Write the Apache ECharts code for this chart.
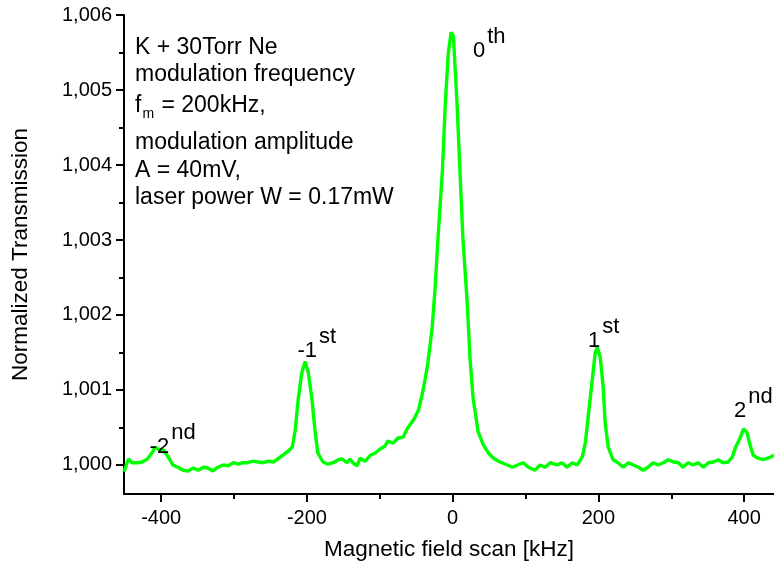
<!DOCTYPE html>
<html>
<head>
<meta charset="utf-8">
<script src="https://cdn.jsdelivr.net/npm/echarts@6/dist/echarts.min.js"></script>
<style>
html,body{margin:0;padding:0;background:#fff;}
#chart{width:774px;height:568px;}
</style>
</head>
<body>
<div id="chart"></div>
<script>
// ---- data ----
const fieldKHz = [-451,-445,-440,-433,-426,-419,-412,-408,-404,-397,-392,-388,-384,-377,-370,-363,-356,-349,-342,-336,-329,-322,-315,-308,-301,-294,-288,-281,-274,-267,-260,-253,-246,-240,-233,-226,-220,-216,-212,-207,-202.5,-198,-193,-189,-185,-178,-171,-164,-157,-152,-145,-141,-137,-131,-127,-120,-113,-106,-100,-93,-89,-82,-75,-68,-62,-56,-52,-47,-42,-38,-34,-28,-24,-20,-14,-10,-6,-2,1,6,10,14,20,24,28,35,42,49,56,65,75,82,89,97,104,113,120,127,134,143,150,157,164,171,178,182,186,191.5,195.6,198.4,202.5,206.6,209.3,213.5,220,227,234,241,248,255,261.5,268,275,282,289,296,303,310,316,323,330,337,344,351,358,364.5,371,378,384,388,395,399,404,408,412.5,419,426,433,439,441];
const transmission = [0.99991,1.00008,1.00003,1.00003,1.00004,1.00008,1.00017,1.00024,1.00021,1.00020,1.00013,1.00007,1.00000,0.99997,0.99993,0.99992,0.99996,0.99993,0.99997,0.99996,0.99992,0.99997,1.00000,0.99999,1.00003,1.00001,1.00003,1.00003,1.00005,1.00004,1.00003,1.00005,1.00004,1.00008,1.00013,1.00018,1.00024,1.00047,1.00087,1.00123,1.00138,1.00123,1.00087,1.00047,1.00016,1.00004,1.00001,1.00003,1.00007,1.00008,1.00003,1.00008,1.00003,0.99999,1.00009,1.00005,1.00013,1.00016,1.00021,1.00025,1.00032,1.00029,1.00036,1.00037,1.00049,1.00057,1.00063,1.00073,1.00093,1.00113,1.00136,1.00184,1.00237,1.00304,1.00393,1.00483,1.00549,1.00577,1.00572,1.00483,1.00393,1.00304,1.00216,1.00140,1.00090,1.00044,1.00027,1.00016,1.00009,1.00004,1.00000,0.99997,1.00000,1.00003,0.99997,0.99993,1.00000,0.99997,1.00003,1.00000,1.00003,0.99997,1.00003,1.00000,1.00011,1.00029,1.00064,1.00113,1.00149,1.00157,1.00144,1.00104,1.00056,1.00024,1.00007,1.00003,0.99997,1.00003,1.00000,0.99997,0.99993,0.99997,1.00003,1.00000,1.00003,1.00007,1.00004,1.00003,0.99997,1.00003,1.00000,1.00003,0.99997,1.00003,1.00004,1.00007,1.00003,1.00004,1.00011,1.00023,1.00037,1.00048,1.00043,1.00027,1.00013,1.00009,1.00007,1.00009,1.00012,1.00013];

const xMajorTicks = [-400,-200,0,200,400];
const xMinorTicks = [-300,-100,100,300];
const yMajorTicks = [1.000,1.001,1.002,1.003,1.004,1.005,1.006];
const yMinorTicks = [1.0005,1.0015,1.0025,1.0035,1.0045,1.0055];

const peakOrders = ['-2','-1','0','1','2'];
const peakSuffixes = ['nd','st','th','st','nd'];
const peakLabelX = [-389,-186,44.6,202.5,403];
const peakLabelY = [1.000240,1.001520,1.005520,1.001650,1.000720];

const noteLines = ['K + 30Torr Ne','modulation frequency','f|m| = 200kHz,','modulation amplitude','A = 40mV,','laser power W = 0.17mW'];

const xTitle = 'Magnetic field scan [kHz]';
const yTitle = 'Normalized Transmission';

// ---- chart ----
const FONT = '"Liberation Sans", Arial, Helvetica, sans-serif';
const chart = echarts.init(document.getElementById('chart'), null, {renderer:'canvas'});

const seriesData = fieldKHz.map((x,i)=>[x, transmission[i]]);
const markData = [];
peakOrders.forEach((o,i)=>{
  markData.push({coord:[peakLabelX[i], peakLabelY[i]],
    label:{show:true, formatter:o, align:'right', verticalAlign:'middle', offset:[0,0],
      fontSize:22, fontFamily:FONT, color:'#000'}});
  markData.push({coord:[peakLabelX[i], peakLabelY[i]],
    label:{show:true, formatter:peakSuffixes[i], align:'left', verticalAlign:'middle', offset:[2,-14],
      fontSize:22, fontFamily:FONT, color:'#000'}});
});

const noteTops = [34,61,89,129,157,184];
const graphics = noteLines.map((line,i)=>{
  if (line.indexOf('|') >= 0) {
    const p = line.split('|');
    return {type:'text', left:135, top:noteTops[i], silent:true,
      style:{text:'{a|'+p[0]+'}{b|'+p[1]+'}{a|'+p[2]+'}', font:'23px '+FONT, fill:'#000',
        rich:{a:{fontSize:23, fontFamily:FONT, lineHeight:27, verticalAlign:'top', fill:'#000'},
              b:{fontSize:14, fontFamily:FONT, lineHeight:14, verticalAlign:'bottom', padding:[18,1,0,1], fill:'#000'}}}};
  }
  return {type:'text', left:135, top:noteTops[i], silent:true,
    style:{text:line, font:'23px '+FONT, fill:'#000', lineHeight:27}};
});

chart.setOption({
  animation:false,
  backgroundColor:'#fff',
  textStyle:{fontFamily:FONT},
  grid:{left:124, right:0, top:15, bottom:74, containLabel:false},
  xAxis:[{
    type:'value', min:-451, max:441, position:'bottom',
    axisLine:{show:true, onZero:false, lineStyle:{color:'#000', width:2}},
    splitLine:{show:false},
    axisTick:{show:true, customValues:xMajorTicks, length:8, lineStyle:{color:'#000', width:2}},
    axisLabel:{customValues:xMajorTicks, fontSize:20, color:'#000', margin:14, fontFamily:FONT},
    name:xTitle, nameLocation:'middle', nameGap:44,
    nameTextStyle:{fontSize:22.5, color:'#000', fontFamily:FONT}
  },{
    type:'value', min:-451, max:441, position:'bottom',
    axisLine:{show:false, onZero:false}, splitLine:{show:false},
    axisTick:{show:true, customValues:xMinorTicks, length:5, lineStyle:{color:'#000', width:2}},
    axisLabel:{show:false}
  }],
  yAxis:[{
    type:'value', min:0.999613, max:1.006, position:'left',
    axisLine:{show:true, onZero:false, lineStyle:{color:'#000', width:2}},
    splitLine:{show:false},
    axisTick:{show:true, customValues:yMajorTicks, length:8, lineStyle:{color:'#000', width:2}},
    axisLabel:{customValues:yMajorTicks, fontSize:20, color:'#000', margin:12, fontFamily:FONT,
      formatter:(v)=>v.toFixed(3).replace('.',',')},
    name:yTitle, nameLocation:'middle', nameGap:92, nameRotate:90,
    nameTextStyle:{fontSize:22.5, color:'#000', fontFamily:FONT}
  },{
    type:'value', min:0.999613, max:1.006, position:'left',
    axisLine:{show:false, onZero:false}, splitLine:{show:false},
    axisTick:{show:true, customValues:yMinorTicks, length:5, lineStyle:{color:'#000', width:2}},
    axisLabel:{show:false}
  }],
  series:[{
    type:'line', xAxisIndex:0, yAxisIndex:0,
    data:seriesData, showSymbol:false, symbol:'none', smooth:false,
    lineStyle:{color:'#00ff00', width:3.4},
    itemStyle:{color:'#00ff00'},
    markPoint:{
      symbol:'circle', symbolSize:0, silent:true,
      label:{show:true, position:'inside', color:'#000'},
      data:markData
    }
  }],
  graphic:graphics
});
</script>
</body>
</html>
